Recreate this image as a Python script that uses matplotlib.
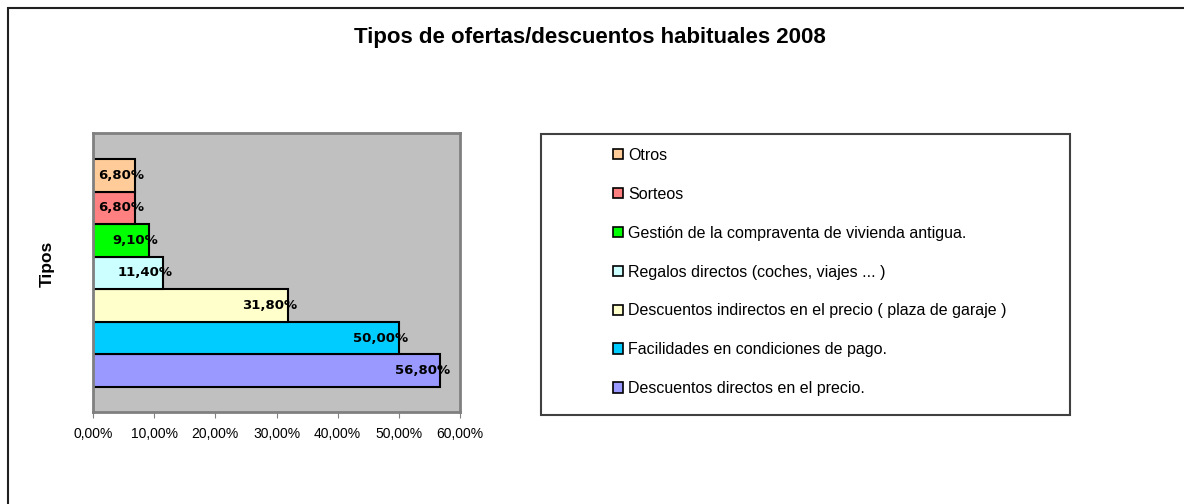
import matplotlib.pyplot as plt
from matplotlib.patches import Rectangle, Patch

plt.rcParams['font.family'] = ['Liberation Sans', 'DejaVu Sans']

# datos (de abajo hacia arriba)
tipos = [
    "Descuentos directos en el precio.",
    "Facilidades en condiciones de pago.",
    "Descuentos indirectos en el precio ( plaza de garaje )",
    "Regalos directos (coches, viajes ... )",
    "Gestión de la compraventa de vivienda antigua.",
    "Sorteos",
    "Otros",
]
porcentajes = [56.8, 50.0, 31.8, 11.4, 9.1, 6.8, 6.8]
etiquetas = ["56,80%", "50,00%", "31,80%", "11,40%", "9,10%", "6,80%", "6,80%"]
colores = ["#9999FF", "#00CCFF", "#FFFFCC", "#CCFFFF", "#00FF00", "#FF8080", "#FFCC99"]
ticks_x = [0, 10, 20, 30, 40, 50, 60]
ticks_txt = ["0,00%", "10,00%", "20,00%", "30,00%", "40,00%", "50,00%", "60,00%"]

W, H = 1184, 504
fig = plt.figure(figsize=(W / 100, H / 100), dpi=100)

# marco exterior
fig.patches.append(Rectangle((8 / W, -0.1), 1.2, 1 - 8 / H + 0.1, transform=fig.transFigure,
                             fill=False, edgecolor="#202020", linewidth=1.5, clip_on=False))

fig.text(590 / W, 1 - 38 / H, "Tipos de ofertas/descuentos habituales 2008",
         ha="center", va="center", fontsize=16, fontweight="bold")

ax = fig.add_axes([93 / W, 1 - 412 / H, 367 / W, 279 / H])
ax.set_facecolor("#C0C0C0")
pos = list(range(len(tipos)))
ax.barh(pos, porcentajes, height=1.0, color=colores, edgecolor="black", linewidth=1.5)

for y, v, t in zip(pos, porcentajes, etiquetas):
    ax.annotate(t, (v, y), xytext=(7, 0), textcoords="offset points",
                ha="right", va="center", fontsize=9.5, fontweight="bold",
                family="DejaVu Sans")

ax.set_xlim(0, 60)
ax.set_ylim(-1.27, 7.3)
ax.set_xticks(ticks_x)
ax.set_xticklabels(ticks_txt, fontsize=10)
ax.set_yticks([])
ax.tick_params(axis="x", direction="out", length=4, color="#808080", pad=7)
for s in ax.spines.values():
    s.set_color("#808080")
    s.set_linewidth(2)
ax.set_ylabel("Tipos", fontsize=12.5, fontweight="bold")
ax.yaxis.set_label_coords(-0.103, 0.53)

# caja de la leyenda
fig.patches.append(Rectangle((541 / W, 1 - 415 / H), 529 / W, 281.5 / H, transform=fig.transFigure,
                             fill=True, facecolor="white", edgecolor="#404040", linewidth=1.5))

handles = [Patch(facecolor=c, edgecolor="black", linewidth=1.2) for c in colores][::-1]
fig.legend(handles, tipos[::-1], loc="center left", bbox_to_anchor=(613 / W, 1 - 272 / H),
           frameon=False, fontsize=11.5, handlelength=0.65, handleheight=0.65,
           handletextpad=0.3, labelspacing=1.5, borderpad=0, borderaxespad=0)

fig.savefig("out.png", dpi=100)
